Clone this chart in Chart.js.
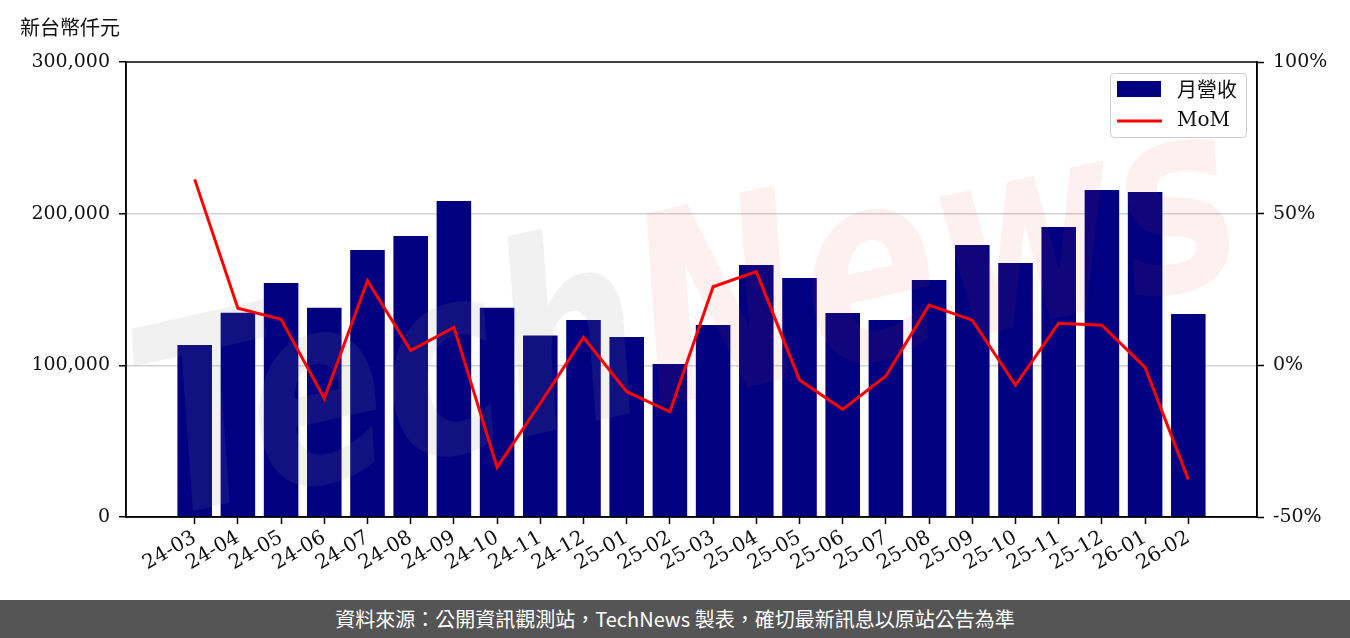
<!DOCTYPE html>
<html>
<head>
<meta charset="utf-8">
<script src="https://cdn.jsdelivr.net/npm/chart.js@4.4.1/dist/chart.umd.min.js"></script>
<style>
  html, body { margin: 0; padding: 0; background: #fff; }
  #wrap { width: 1350px; height: 600px; position: relative; }
  #footer {
    width: 1350px; height: 38px; background: #555555; color: #fff;
    font-family: "Noto Sans CJK TC", "Noto Sans", sans-serif; font-size: 20px;
    text-align: center; line-height: 38px;
  }
</style>
</head>
<body>
<div id="wrap"><canvas id="chart" width="1350" height="600"></canvas></div>
<div id="footer">資料來源：公開資訊觀測站，TechNews 製表，確切最新訊息以原站公告為準</div>
<script>
const months = ['24-03','24-04','24-05','24-06','24-07','24-08','24-09','24-10','24-11','24-12',
  '25-01','25-02','25-03','25-04','25-05','25-06','25-07','25-08','25-09','25-10','25-11','25-12',
  '26-01','26-02'];
// 月營收 (新台幣仟元)
const revenue = [113400, 134700, 154300, 138000, 176000, 185300, 208300, 138000, 119600, 129900,
  118700, 100900, 126600, 166200, 157600, 134500, 129900, 156300, 179300, 167500, 191200, 215600,
  214300, 133800];
// MoM (%)
const mom = [61.3, 18.8, 15.2, -10.9, 27.9, 4.9, 12.5, -33.6, -12.5, 9.2,
  -8.7, -15.3, 25.9, 30.9, -4.8, -14.5, -3.5, 19.9, 14.9, -6.5, 13.9, 13.2,
  -0.7, -37.6];
const leftTicks = [0, 100000, 200000, 300000];
const rightTicks = [-50, 0, 50, 100];

const yFont = { family: '"DejaVu Serif", serif', size: 19 };
const xFont = { family: '"DejaVu Serif", serif', size: 20 };

const frame = {
  id: 'frame',
  afterDatasetDraw(chart, args) {
    // watermark sits over the bars but under the line
    if (args.index !== 0) return;
    const ctx = chart.ctx;
    ctx.save();
    ctx.beginPath();
    ctx.rect(chart.chartArea.left, chart.chartArea.top, chart.chartArea.width, chart.chartArea.height);
    ctx.clip();
    ctx.translate(690, 330);
    ctx.rotate(-0.22);
    ctx.font = 'italic bold 250px "DejaVu Sans", sans-serif';
    ctx.textBaseline = 'middle';
    const w1 = ctx.measureText('Tech').width;
    const w2 = ctx.measureText('News').width;
    const sx = 1120 / (w1 + w2);
    ctx.scale(sx, 1.05);
    const x0 = -(w1 + w2) / 2;
    ctx.fillStyle = 'rgba(140,140,140,0.12)';
    ctx.fillText('Tech', x0, 0);
    ctx.fillStyle = 'rgba(220,60,60,0.08)';
    ctx.fillText('News', x0 + w1, 0);
    ctx.restore();
  },
  afterDraw(chart) {
    const ctx = chart.ctx;
    const a = chart.chartArea;
    ctx.save();
    ctx.strokeStyle = '#000';
    ctx.lineWidth = 1.5;
    ctx.strokeRect(a.left, a.top, a.right - a.left, a.bottom - a.top);

    // unit label
    ctx.fillStyle = '#111';
    ctx.font = '20px "Noto Sans CJK TC", sans-serif';
    ctx.textBaseline = 'middle';
    ctx.textAlign = 'left';
    ctx.fillText('新台幣仟元', 20, 27);

    // legend
    const lx = 1110, ly = 73, lw = 136, lh = 64;
    ctx.fillStyle = 'rgba(255,255,255,0.85)';
    ctx.strokeStyle = '#cccccc';
    ctx.lineWidth = 1;
    ctx.beginPath();
    ctx.roundRect(lx + 0.5, ly + 0.5, lw, lh, 4);
    ctx.fill();
    ctx.stroke();
    const ds = chart.data.datasets;
    ctx.fillStyle = ds[0].backgroundColor;
    ctx.fillRect(lx + 7, ly + 8, 44, 16);
    ctx.strokeStyle = ds[1].borderColor;
    ctx.lineWidth = 3;
    ctx.beginPath();
    ctx.moveTo(lx + 7, ly + 48);
    ctx.lineTo(lx + 52, ly + 48);
    ctx.stroke();
    ctx.fillStyle = '#111';
    ctx.font = '20px "Noto Sans CJK TC", sans-serif';
    ctx.fillText(ds[0].label, lx + 67, ly + 16);
    ctx.font = '20px "DejaVu Serif", serif';
    ctx.fillText(ds[1].label, lx + 67, ly + 48);
    ctx.restore();
  }
};

new Chart(document.getElementById('chart'), {
  type: 'bar',
  data: {
    datasets: [{
      label: '月營收',
      data: revenue.map((v, i) => ({ x: i, y: v })),
      backgroundColor: '#000080',
      barPercentage: 0.8,
      categoryPercentage: 1,
      yAxisID: 'y',
      order: 2
    }, {
      type: 'line',
      label: 'MoM',
      data: mom.map((v, i) => ({ x: i, y: v })),
      borderColor: '#ff0000',
      borderWidth: 3,
      pointRadius: 0,
      tension: 0,
      yAxisID: 'y1',
      order: 1
    }]
  },
  plugins: [frame],
  options: {
    responsive: false,
    animation: false,
    layout: { padding: { top: 62, left: 0, right: 0, bottom: 0 } },
    plugins: { legend: { display: false }, tooltip: { enabled: false } },
    scales: {
      x: {
        type: 'linear',
        min: -1.59,
        max: 24.59,
        offset: false,
        afterBuildTicks: s => { s.ticks = months.map((_, i) => ({ value: i })); },
        afterFit: s => { s.height = 83; },
        ticks: {
          autoSkip: false, minRotation: 30, maxRotation: 30, padding: 2,
          color: '#111', font: xFont,
          callback: v => months[v] ?? ''
        },
        grid: { offset: false, drawOnChartArea: false, tickLength: 7, tickColor: '#000', tickWidth: 1.5 },
        border: { color: '#000', width: 1.5 }
      },
      y: {
        position: 'left',
        min: 0,
        max: 300000,
        afterBuildTicks: s => { s.ticks = leftTicks.map(v => ({ value: v })); },
        afterFit: s => { s.width = 126; },
        ticks: {
          padding: 9, color: '#111', font: yFont,
          callback: v => v.toLocaleString('en-US')
        },
        grid: {
          color: c => (c.tick && (c.tick.value === 0 || c.tick.value === 300000)) ? 'rgba(0,0,0,0)' : '#d3d3d3',
          lineWidth: 1.5, tickLength: 7, tickColor: '#000', tickWidth: 1.5
        },
        border: { color: '#000', width: 1.5 }
      },
      y1: {
        position: 'right',
        min: -50,
        max: 100,
        afterBuildTicks: s => { s.ticks = rightTicks.map(v => ({ value: v })); },
        afterFit: s => { s.width = 93; },
        ticks: {
          padding: 9, color: '#111', font: yFont,
          callback: v => v + '%'
        },
        grid: { drawOnChartArea: false, tickLength: 7, tickColor: '#000', tickWidth: 1.5 },
        border: { color: '#000', width: 1.5 }
      }
    }
  }
});
</script>
</body>
</html>
